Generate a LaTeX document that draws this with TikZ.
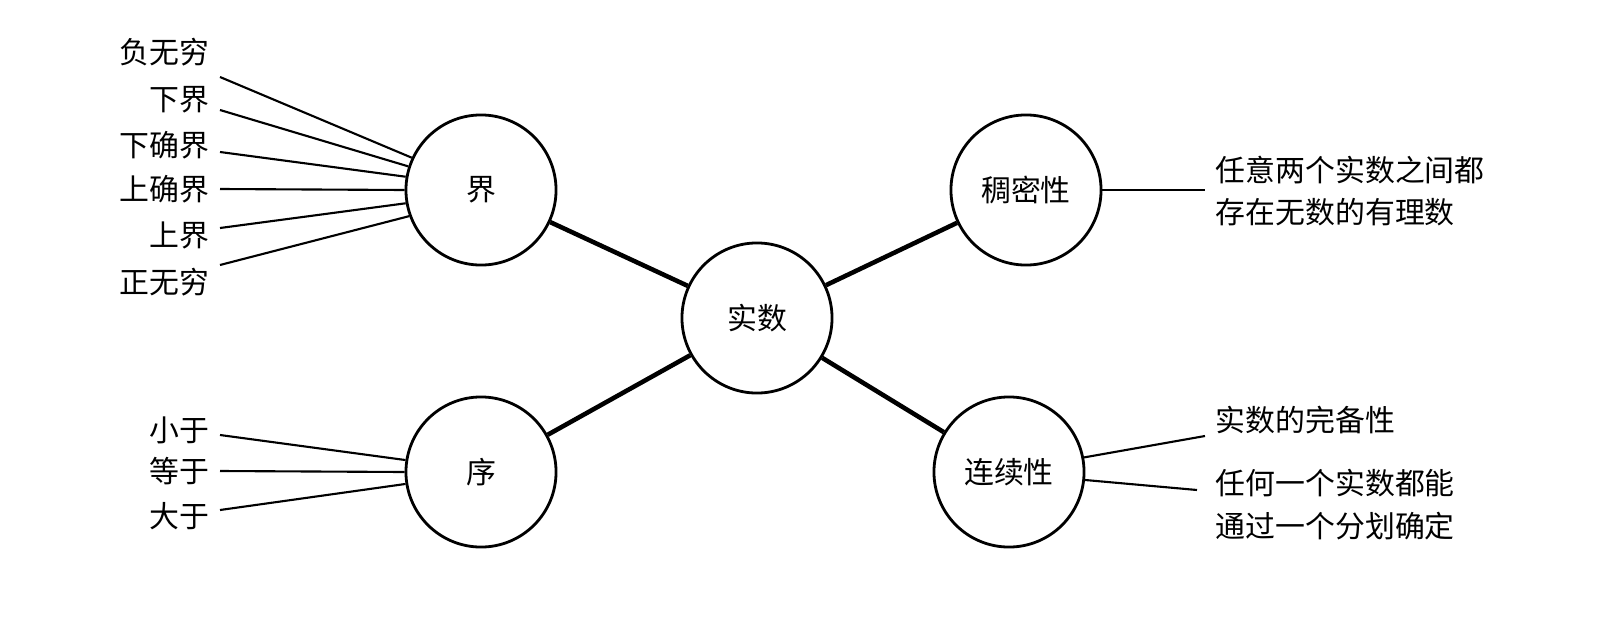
\documentclass[tikz,border=0pt]{standalone}
\usepackage{fontspec}
\setmainfont{Noto Sans CJK SC}
\begin{document}
\begin{tikzpicture}[x=0.01cm,y=-0.01cm,
  c/.style={circle,draw,line width=0.8pt,minimum size=1.5cm,inner sep=0pt,font=\fontsize{8.5pt}{10pt}\selectfont},
  t/.style={font=\fontsize{8.5pt}{12.2pt}\selectfont,inner sep=0pt},
  thin/.style={line width=0.6pt},
  thick/.style={line width=1.3pt}]
\node[c] (j) at (481,190) {界};
\node[c] (s) at (757,318) {实数};
\node[c] (m) at (1026,190) {稠密性};
\node[c] (x) at (481,472) {序};
\node[c] (l) at (1009,472) {连续性};
\draw[thick] (s) -- (j); \draw[thick] (s) -- (m);
\draw[thick] (s) -- (x); \draw[thick] (s) -- (l);
\foreach \n/\ly/\a in {a/77/155,b/110/162,c/152/170,d/189/180,e/228/190,f/265/200}{
  \coordinate (\n p) at (220,\ly);
  \draw[thin] (\n p) -- (j.\a);
}
\node[t,anchor=east] at (210,52) {负无穷};
\node[t,anchor=east] at (210,100) {下界};
\node[t,anchor=east] at (210,145) {下确界};
\node[t,anchor=east] at (210,189) {上确界};
\node[t,anchor=east] at (210,235) {上界};
\node[t,anchor=east] at (210,282) {正无穷};
\node[t,anchor=east] at (210,430) {小于};
\node[t,anchor=east] at (210,471) {等于};
\node[t,anchor=east] at (210,516) {大于};
\coordinate (g1) at (220,435); \coordinate (g2) at (220,471); \coordinate (g3) at (220,510);
\draw[thin] (g1) -- (x.171); \draw[thin] (g2) -- (x.180); \draw[thin] (g3) -- (x.189);
\coordinate (h) at (1205,190); \draw[thin] (m) -- (h);
\node[t,anchor=west,align=left] at (1215,191) {任意两个实数之间都\\存在无数的有理数};
\coordinate (k1) at (1205,436); \coordinate (k2) at (1197,490);
\draw[thin] (l.11) -- (k1); \draw[thin] (l.354) -- (k2);
\node[t,anchor=west] at (1215,420) {实数的完备性};
\node[t,anchor=west,align=left] at (1215,505) {任何一个实数都能\\通过一个分划确定};
\pgfresetboundingbox
\useasboundingbox (0,0) rectangle (1600,618);
\end{tikzpicture}
\end{document}
